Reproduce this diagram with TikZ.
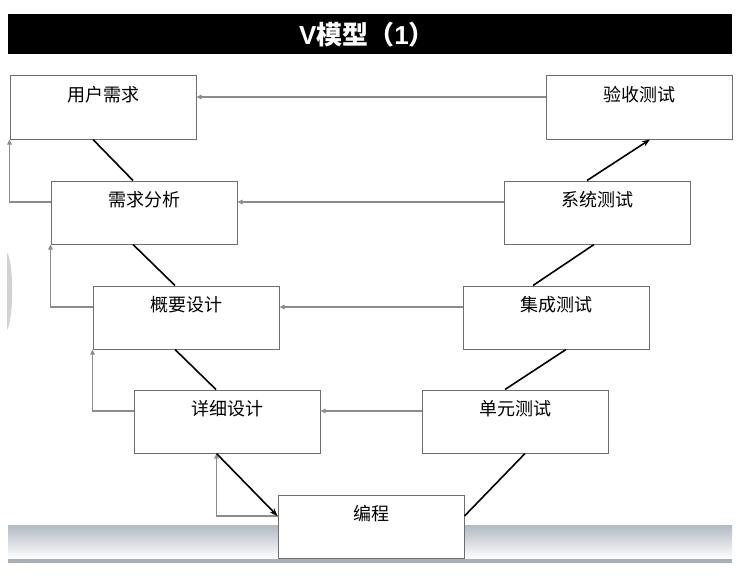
\documentclass[tikz,border=0pt]{standalone}
\usepackage{fontspec}
\newfontfamily\cjk{Noto Sans CJK SC}
\newfontfamily\latin{Liberation Sans}
\usepackage{xcolor}
\usetikzlibrary{arrows.meta}
\definecolor{boxline}{HTML}{6E6E6E}
\definecolor{fbline}{HTML}{8C8C8C}
\definecolor{bandtop}{HTML}{B2BAC3}
\definecolor{bandedge}{HTML}{A9AFB6}

\begin{document}
\begin{tikzpicture}[x=1pt, y=-1pt,
    box/.style={draw=boxline, line width=1pt, fill=white, inner sep=0pt,
        minimum width=186pt, text height=25.75pt, text depth=37.25pt,
        font=\cjk\fontsize{18}{20}\selectfont},
    fb/.style={fbline, line width=1.2pt, -{Triangle[length=5pt, width=4.5pt]}},
    vline/.style={black, line width=1.6pt}]

    \useasboundingbox (0,0) rectangle (753,578);

    \fill[black] (8,14) rectangle (732,54);
    \node[text=white, font=\cjk\bfseries\fontsize{26}{28}\selectfont] (title) at (367,35) {{\latin V}模型（{\latin 1}）};

    \fill[gray!35] (7,252) .. controls (14,264) and (14,318) .. (7,330) -- cycle;

    \shade[top color=bandtop, bottom color=white] (8,525) rectangle (732,559);
    \fill[bandedge] (8,559) rectangle (732,563);

    \node[box] (ur)   at (103,107.5) {用户需求};
    \node[box] (ra)   at (144,212.5) {需求分析};
    \node[box] (hd)   at (186,317.5) {概要设计};
    \node[box] (dd)   at (227,421.5) {详细设计};
    \node[box] (code) at (371,526.5) {编程};
    \node[box] (ut)   at (515,421.5) {单元测试};
    \node[box] (it)   at (556,317.5) {集成测试};
    \node[box] (st)   at (597,212.5) {系统测试};
    \node[box] (at)   at (639,107.5) {验收测试};

    \path[fb]
        ([yshift=10.5pt]at.west) edge ([yshift=10.5pt]ur.east)
        ([yshift=10.5pt]st.west) edge ([yshift=10.5pt]ra.east)
        ([yshift=10.5pt]it.west) edge ([yshift=10.5pt]hd.east)
        ([yshift=10.5pt]ut.west) edge ([yshift=10.5pt]dd.east);

    \draw[fb] ([yshift=10.5pt]ra.west) -| (ur.south west);
    \draw[fb] ([yshift=10.5pt]hd.west) -| (ra.south west);
    \draw[fb] ([yshift=10.5pt]dd.west) -| (hd.south west);
    \draw[fb] ([yshift=10.5pt]code.west) -| ([xshift=-10.5pt]dd.south);

    \path[vline]
        ([xshift=-10pt]ur.south) edge ([xshift=-11pt]ra.north)
        ([xshift=-11pt]ra.south) edge ([xshift=-11pt]hd.north)
        ([xshift=-11pt]hd.south) edge ([xshift=-11pt]dd.north)
        ([xshift=-10.5pt]dd.south) edge[-{Stealth[length=8pt, width=6pt]}] ([yshift=10.5pt]code.west)
        ([yshift=10.5pt]code.east) edge ([xshift=10pt]ut.south)
        ([xshift=-10pt]ut.north) edge ([xshift=10pt]it.south)
        ([xshift=-23pt]it.north) edge ([xshift=-3pt]st.south)
        ([xshift=-10pt]st.north) edge[-{Stealth[length=8pt, width=6pt]}] ([xshift=11pt]at.south);

\end{tikzpicture}
\end{document}
